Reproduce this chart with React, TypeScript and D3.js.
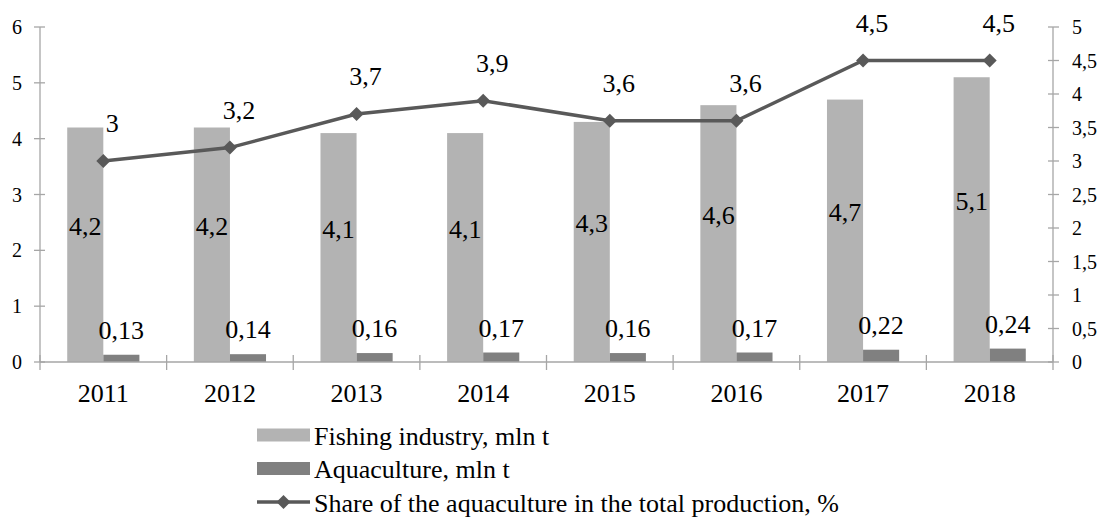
import React from "react";
import * as d3 from "d3";

const years = ["2011", "2012", "2013", "2014", "2015", "2016", "2017", "2018"];
const fishing = [4.2, 4.2, 4.1, 4.1, 4.3, 4.6, 4.7, 5.1];
const aquaculture = [0.13, 0.14, 0.16, 0.17, 0.16, 0.17, 0.22, 0.24];
const share = [3, 3.2, 3.7, 3.9, 3.6, 3.6, 4.5, 4.5];
const leftTicks = [0, 1, 2, 3, 4, 5, 6];
const rightTicks = [0, 0.5, 1, 1.5, 2, 2.5, 3, 3.5, 4, 4.5, 5];
const legendLabels = [
  "Fishing industry, mln t",
  "Aquaculture, mln t",
  "Share of the aquaculture in the total production, %",
];

const W = 1100;
const H = 518;
const left = 40;
const right = 1053;
const top = 27;
const bottom = 362;

const fmt = (v: number) => String(v).replace(".", ",");

export default function App() {
  const x = d3.scaleBand<string>().domain(years).range([left, right]).paddingInner(0).paddingOuter(0);
  const yL = d3.scaleLinear().domain([0, 6]).range([bottom, top]);
  const yR = d3.scaleLinear().domain([0, 5]).range([bottom, top]);
  const bw = x.bandwidth();
  const barW = bw * 0.285;
  const gap = (bw - 2 * barW) / 2;
  const cx = (y: string) => (x(y) as number) + bw / 2;

  const line = d3
    .line<number>()
    .x((_, i) => cx(years[i]))
    .y((d) => yR(d));

  const axisColor = "#a6a6a6";
  const fishColor = "#b3b3b3";
  const aquaColor = "#808080";
  const lineColor = "#595959";
  const font = "'Liberation Serif', 'Times New Roman', Times, serif";

  const diamond = (px: number, py: number, r: number) =>
    `M${px},${py - r}L${px + r},${py}L${px},${py + r}L${px - r},${py}Z`;

  const boundaries = d3.range(years.length + 1).map((i) => left + i * bw);
  const legendRows = [435, 468.5, 502];

  return (
    <svg
      width={W}
      height={H}
      style={{ position: "absolute", left: 0, top: 0, background: "#fff", fontFamily: font }}
    >
      {/* bars */}
      {years.map((yr, i) => (
        <g key={yr}>
          <rect
            x={(x(yr) as number) + gap}
            y={yL(fishing[i])}
            width={barW}
            height={bottom - yL(fishing[i])}
            fill={fishColor}
          />
          <rect
            x={(x(yr) as number) + gap + barW}
            y={yL(aquaculture[i])}
            width={barW}
            height={bottom - yL(aquaculture[i])}
            fill={aquaColor}
          />
        </g>
      ))}

      {/* axes */}
      <line x1={left} x2={left} y1={top} y2={bottom} stroke={axisColor} strokeWidth={1.3} />
      <line x1={right} x2={right} y1={top} y2={bottom} stroke={axisColor} strokeWidth={1.3} />
      <line x1={left} x2={right} y1={bottom} y2={bottom} stroke={axisColor} strokeWidth={1.3} />
      {leftTicks.map((t) => (
        <g key={"l" + t}>
          <line x1={left - 6} x2={left + 5} y1={yL(t)} y2={yL(t)} stroke={axisColor} strokeWidth={1.3} />
          <text x={22} y={yL(t)} dy="0.35em" textAnchor="end" fontSize={20} fill="#000" style={{ fontFamily: font }}>
            {fmt(t)}
          </text>
        </g>
      ))}
      {rightTicks.map((t) => (
        <g key={"r" + t}>
          <line x1={right - 5} x2={right + 6} y1={yR(t)} y2={yR(t)} stroke={axisColor} strokeWidth={1.3} />
          <text x={1072} y={yR(t)} dy="0.35em" textAnchor="start" fontSize={20} fill="#000" style={{ fontFamily: font }}>
            {fmt(t)}
          </text>
        </g>
      ))}
      {boundaries.map((b, i) => (
        <line key={"b" + i} x1={b} x2={b} y1={bottom - 7} y2={bottom + 8} stroke={axisColor} strokeWidth={1.3} />
      ))}
      {years.map((yr) => (
        <text
          key={"c" + yr}
          x={cx(yr)}
          y={393}
          dy="0.35em"
          textAnchor="middle"
          fontSize={26}
          fill="#000"
          style={{ fontFamily: font }}
        >
          {yr}
        </text>
      ))}

      {/* line */}
      <path d={line(share) || ""} fill="none" stroke={lineColor} strokeWidth={3.5} />
      {share.map((v, i) => (
        <path key={"m" + i} d={diamond(cx(years[i]), yR(v), 7)} fill={lineColor} />
      ))}

      {/* data labels */}
      {years.map((yr, i) => (
        <g key={"lab" + yr} fontSize={26} fill="#000" style={{ fontFamily: font }}>
          <text x={(x(yr) as number) + gap + barW / 2} y={yL(fishing[i] / 2) - 19} dy="0.35em" textAnchor="middle">
            {fmt(fishing[i])}
          </text>
          <text
            x={(x(yr) as number) + gap + barW * 1.5}
            y={yL(aquaculture[i]) - 25}
            dy="0.35em"
            textAnchor="middle"
          >
            {fmt(aquaculture[i])}
          </text>
          <text x={cx(yr) + 9} y={yR(share[i]) - 38} dy="0.35em" textAnchor="middle">
            {fmt(share[i])}
          </text>
        </g>
      ))}

      {/* legend */}
      <g fontSize={26} fill="#000" style={{ fontFamily: font }}>
        <rect x={257} y={legendRows[0] - 6.5} width={53} height={13} fill={fishColor} />
        <text x={314} y={legendRows[0] + 1} dy="0.33em">{legendLabels[0]}</text>
        <rect x={257} y={legendRows[1] - 6.5} width={53} height={13} fill={aquaColor} />
        <text x={314} y={legendRows[1] + 1} dy="0.33em">{legendLabels[1]}</text>
        <line x1={257} x2={310} y1={legendRows[2]} y2={legendRows[2]} stroke={lineColor} strokeWidth={3.5} />
        <path d={diamond(283.5, legendRows[2], 7)} fill={lineColor} />
        <text x={314} y={legendRows[2] + 1} dy="0.33em">{legendLabels[2]}</text>
      </g>
    </svg>
  );
}
